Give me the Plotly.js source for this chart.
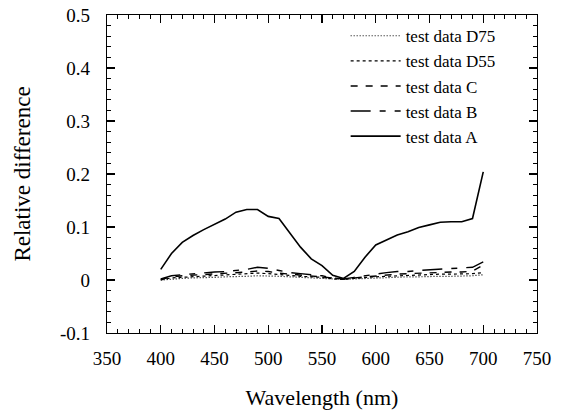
<!DOCTYPE html>
<html>
<head>
<meta charset="utf-8">
<script src="https://cdn.plot.ly/plotly-3.0.1.min.js"></script>
<style>html,body{margin:0;padding:0;background:#fff}#chart{width:563px;height:414px}</style>
</head>
<body>
<div id="chart"></div>
<script>
const wavelength = [400,410,420,430,440,450,460,470,480,490,500,510,520,530,540,550,560,570,580,590,600,610,620,630,640,650,660,670,680,690,700];
const testA = [0.020,0.050,0.071,0.084,0.095,0.105,0.115,0.128,0.133,0.133,0.120,0.116,0.090,0.062,0.040,0.027,0.009,0.003,0.016,0.043,0.066,0.075,0.085,0.091,0.099,0.104,0.109,0.110,0.110,0.116,0.204];
const testB = [0.002,0.008,0.010,0.012,0.013,0.015,0.016,0.018,0.020,0.024,0.022,0.018,0.014,0.012,0.010,0.008,0.004,0.002,0.005,0.008,0.012,0.014,0.016,0.016,0.018,0.019,0.020,0.021,0.022,0.024,0.034];
const testC = [0.001,0.006,0.008,0.009,0.010,0.011,0.012,0.013,0.015,0.017,0.016,0.013,0.011,0.009,0.008,0.006,0.003,0.002,0.004,0.006,0.008,0.010,0.011,0.012,0.013,0.014,0.015,0.015,0.015,0.017,0.028];
const testD55 = [0.000,0.004,0.005,0.006,0.007,0.008,0.009,0.010,0.011,0.013,0.012,0.010,0.008,0.007,0.006,0.005,0.002,0.001,0.003,0.005,0.006,0.007,0.008,0.009,0.010,0.010,0.011,0.011,0.011,0.012,0.014];
const testD75 = [0.000,0.002,0.003,0.004,0.004,0.005,0.006,0.006,0.007,0.008,0.008,0.007,0.006,0.005,0.004,0.003,0.002,0.001,0.002,0.003,0.004,0.005,0.005,0.006,0.006,0.007,0.007,0.007,0.007,0.008,0.010];
const seriesNames = ["test data D75","test data D55","test data C","test data B","test data A"];
const yTickVals = [-0.1,0,0.1,0.2,0.3,0.4,0.5];
const yTickText = ["-0.1","0","0.1","0.2","0.3","0.4","0.5"];
const xTickVals = [350,400,450,500,550,600,650,700,750];
const xTickText = ["350","400","450","500","550","600","650","700","750"];

const font = "Liberation Serif, Times New Roman, serif";
const traces = [
  {x: wavelength, y: testD75, name: seriesNames[0], line:{color:'#000', width:1.2, dash:'1px,2px'}},
  {x: wavelength, y: testD55, name: seriesNames[1], line:{color:'#000', width:1.2, dash:'3px,3px'}},
  {x: wavelength, y: testC, name: seriesNames[2], line:{color:'#000', width:1.4, dash:'7px,8px'}},
  {x: wavelength, y: testB, name: seriesNames[3], line:{color:'#000', width:1.4, dash:'20px,9px,6px,9px'}},
  {x: wavelength, y: testA, name: seriesNames[4], line:{color:'#000', width:1.6}}
].map(t => Object.assign({type:'scatter', mode:'lines'}, t));

const axisCommon = {
  showgrid:false, zeroline:false, showline:true, linecolor:'#000', linewidth:1.2,
  mirror:'ticks', ticks:'inside', ticklen:8, tickwidth:1.2, tickcolor:'#000',
  tickfont:{family:font, size:19, color:'#000'}, tickmode:'array'
};

const layout = {
  width:563, height:414,
  margin:{l:107, r:26, t:15, b:81},
  paper_bgcolor:'#fff', plot_bgcolor:'#fff',
  showlegend:true,
  legend:{x:0.555, y:0.99, xanchor:'left', yanchor:'top', bgcolor:'rgba(0,0,0,0)',
          font:{family:font, size:17, color:'#000'}, tracegroupgap:0, itemwidth:50},
  xaxis: Object.assign({}, axisCommon, {
    range:[350,750], tickvals:xTickVals, ticktext:xTickText, ticklabelstandoff:8,
    minor:{dtick:10, tick0:350, ticks:'inside', ticklen:4, tickwidth:1, tickcolor:'#000'},
    title:{text:'Wavelength (nm)', font:{family:font, size:22, color:'#000'}, standoff:21}
  }),
  yaxis: Object.assign({}, axisCommon, {
    range:[-0.1,0.5], tickvals:yTickVals, ticktext:yTickText, ticklabelstandoff:12,
    minor:{dtick:0.02, tick0:0, ticks:'inside', ticklen:4, tickwidth:1, tickcolor:'#000'},
    title:{text:'Relative difference', font:{family:font, size:23, color:'#000'}, standoff:22}
  })
};

Plotly.newPlot('chart', traces, layout, {staticPlot:true, displayModeBar:false});
</script>
</body>
</html>
